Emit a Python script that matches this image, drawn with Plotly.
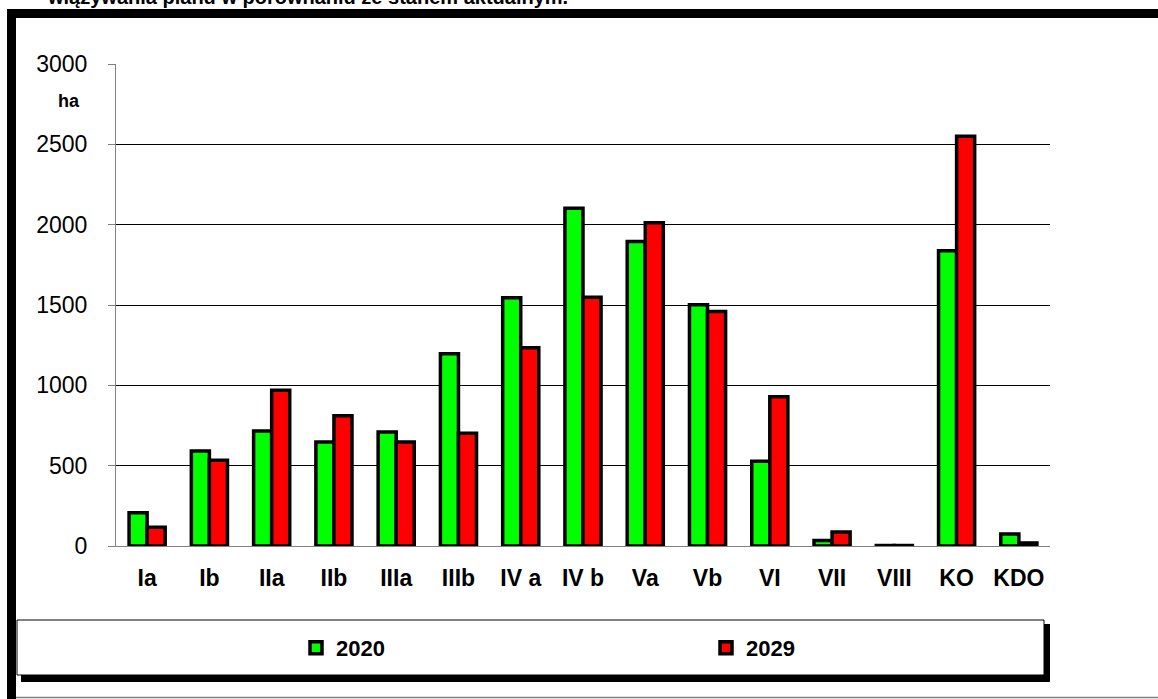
import plotly.graph_objects as go

# Land-use classes and area (ha) for both years
categories = ["Ia", "Ib", "IIa", "IIb", "IIIa", "IIIb", "IV a", "IV b",
              "Va", "Vb", "VI", "VII", "VIII", "KO", "KDO"]
area_2020 = [207, 591, 716, 647, 709, 1197, 1545, 2102,
             1896, 1502, 527, 35, 3, 1838, 75]
area_2029 = [116, 533, 969, 811, 647, 701, 1234, 1548,
             2012, 1460, 929, 87, 3, 2550, 19]
y_ticks = [0, 500, 1000, 1500, 2000, 2500, 3000]

W, H = 1158, 699
L, R, T, B = 116, 1050, 64, 546  # plot area in pixels

FONT = "Arial, Liberation Sans, sans-serif"


def px(x):
    return (x - L) / (R - L)


def py(y):
    return (B - y) / (B - T)


fig = go.Figure()
fig.add_trace(go.Bar(
    x=categories, y=area_2020, name="2020",
    marker=dict(color="#00FF00", line=dict(color="black", width=3.5)),
))
fig.add_trace(go.Bar(
    x=categories, y=area_2029, name="2029",
    marker=dict(color="#FF0000", line=dict(color="black", width=3.5)),
))

shapes = []
# legend panel: drop shadow, then white box
shapes.append(dict(type="rect", xref="paper", yref="paper",
                   x0=px(21), x1=px(1050), y0=py(682), y1=py(624),
                   fillcolor="black", line=dict(width=0), layer="above"))
shapes.append(dict(type="rect", xref="paper", yref="paper",
                   x0=px(17), x1=px(1044), y0=py(675), y1=py(620),
                   fillcolor="white", line=dict(color="black", width=1),
                   layer="above"))
# outer frame: heavy top and left edges, thin bottom edge
shapes.append(dict(type="rect", xref="paper", yref="paper",
                   x0=px(7), x1=px(1160), y0=py(18), y1=py(9),
                   fillcolor="black", line=dict(width=0), layer="above"))
shapes.append(dict(type="rect", xref="paper", yref="paper",
                   x0=px(7), x1=px(16), y0=py(702), y1=py(9),
                   fillcolor="black", line=dict(width=0), layer="above"))
shapes.append(dict(type="line", xref="paper", yref="paper",
                   x0=px(16), x1=px(1160), y0=py(697.5), y1=py(697.5),
                   line=dict(color="#808080", width=1.5), layer="above"))

annotations = [
    dict(text="<b>ha</b>", xref="paper", yref="paper",
         x=px(69), y=py(101), xanchor="center", yanchor="middle",
         showarrow=False, font=dict(family=FONT, size=18, color="black")),
    dict(text="<b>wiązywania planu w porównaniu ze stanem aktualnym.</b>",
         xref="paper", yref="paper", x=px(45), y=py(10),
         xanchor="left", yanchor="bottom", showarrow=False,
         font=dict(family=FONT, size=20, color="black")),
]

fig.update_layout(
    width=W, height=H, autosize=False,
    margin=dict(l=L, r=W - R, t=T, b=H - B, pad=0),
    paper_bgcolor="white", plot_bgcolor="white",
    barmode="group", bargap=0.42, bargroupgap=0,
    font=dict(family=FONT, color="black"),
    showlegend=True,
    legend=dict(orientation="h", x=px(296), y=py(648),
                xanchor="left", yanchor="middle",
                entrywidth=365, entrywidthmode="pixels",
                itemwidth=30, bgcolor="rgba(0,0,0,0)",
                font=dict(family=FONT, size=22, color="black",
                          weight="bold"),
                traceorder="normal"),
    shapes=shapes, annotations=annotations,
)
fig.update_xaxes(
    showgrid=False, showline=True, linecolor="#808080", linewidth=1,
    ticks="", tickfont=dict(family=FONT, size=23, color="black",
                            weight="bold"),
    ticklabelstandoff=11,
)
fig.update_yaxes(
    range=[0, 3000], tickvals=y_ticks,
    showgrid=True, gridcolor="black", gridwidth=1,
    showline=True, linecolor="#808080", linewidth=1,
    ticks="outside", ticklen=7, tickcolor="#808080",
    tickfont=dict(family=FONT, size=23, color="black"),
    ticklabelstandoff=16, zeroline=False,
)

fig.write_html("out.html")
